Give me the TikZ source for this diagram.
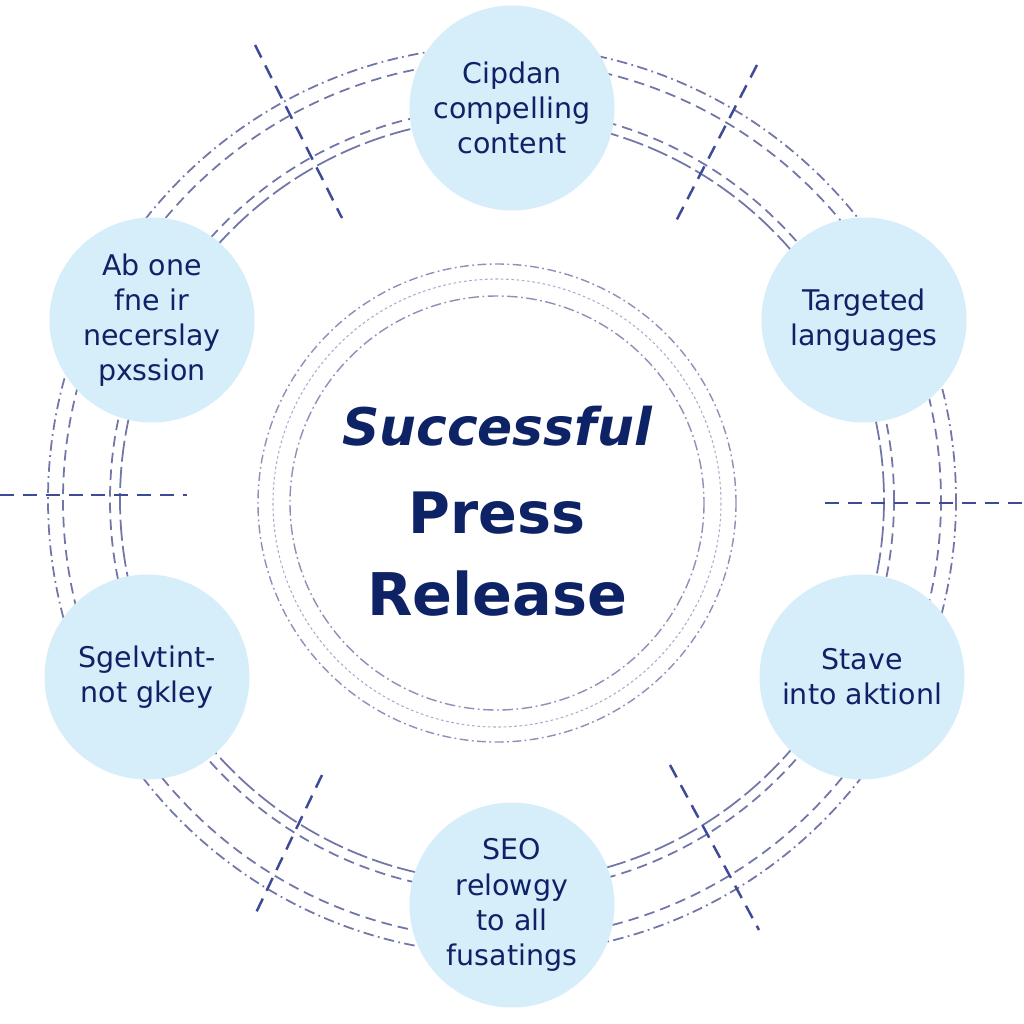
\documentclass[tikz,border=0pt]{standalone}
\usepackage{fontspec}
\setmainfont{DejaVu Sans}
\usetikzlibrary{positioning}
\definecolor{navy}{RGB}{14,34,102}
\definecolor{bubblefill}{RGB}{214,237,250}
\definecolor{ringgray}{RGB}{112,118,168}
\definecolor{crossblue}{RGB}{62,74,150}
\tikzset{
  bubble/.style={circle, fill=bubblefill, minimum size=4.1cm, inner sep=0pt,
    text=navy, align=center, font=\fontsize{16.2}{20}\selectfont},
  ringline/.style={ringgray, line width=1pt, dash pattern=on 6pt off 3.5pt},
  ringdot/.style={ringgray, line width=1pt, dash pattern=on 6pt off 2.5pt on 1pt off 2.5pt},
  crossline/.style={crossblue, line width=1.4pt, dash pattern=on 8pt off 5pt},
  titletext/.style={text=navy, inner sep=0pt, anchor=base},
}
\begin{document}
\begin{tikzpicture}[x=0.02cm, y=-0.02cm]
\useasboundingbox[fill=white] (0,0) rectangle (1024,1024);

% outer double rings
\draw[ringdot] (502,500) circle (454);
\draw[ringline] (502,500) circle (439);
\draw[ringline] (502,500) circle (392);
\draw[ringline, dash pattern=on 12pt off 3pt] (502,500) circle (382);

% central rings
\draw[ringgray!80, line width=0.8pt, dash pattern=on 5pt off 2pt on 1pt off 2pt] (497,503) circle (239);
\draw[ringgray!60, line width=0.6pt, dash pattern=on 1.5pt off 1.5pt] (497,503) circle (224);
\draw[ringgray!80, line width=0.8pt, dash pattern=on 6pt off 2pt on 1pt off 2pt] (497,503) circle (207);

% crossing ticks
\draw[crossline] (255,45) -- (342,218);
\draw[crossline] (757,65) -- (674,225);
\draw[crossline] (322,775) -- (253,919);
\draw[crossline] (670,765) -- (759,930);
\draw[crossline] (0,495) -- (187,495);
\draw[crossline] (825,503) -- (1024,503);

% satellites
\node[bubble] (content) at (512,108) {Cipdan\\compelling\\content};
\node[bubble] (passion) at (152,320) {Ab one\\fne ir\\necerslay\\pxssion};
\node[bubble] (lang) at (864,320) {Targeted\\languages};
\node[bubble] (action) at (862,677) {Stave\\into aktionl};
\node[bubble] (seo) at (512,905) {SEO\\relowgy\\to all\\fusatings};
\node[bubble] (sgel) at (147,677) {Sgelvtint-\\not gkley};

% title
\node[titletext, font=\fontsize{29.5}{30}\bfseries\itshape\selectfont] (succ) at (497,445) {Successful};
\node[titletext, font=\fontsize{32.5}{33}\bfseries\selectfont] (press) at (497,533) {Press};
\node[titletext, font=\fontsize{33.5}{34}\bfseries\selectfont] (rel) at (497,615) {Release};
\end{tikzpicture}
\end{document}
